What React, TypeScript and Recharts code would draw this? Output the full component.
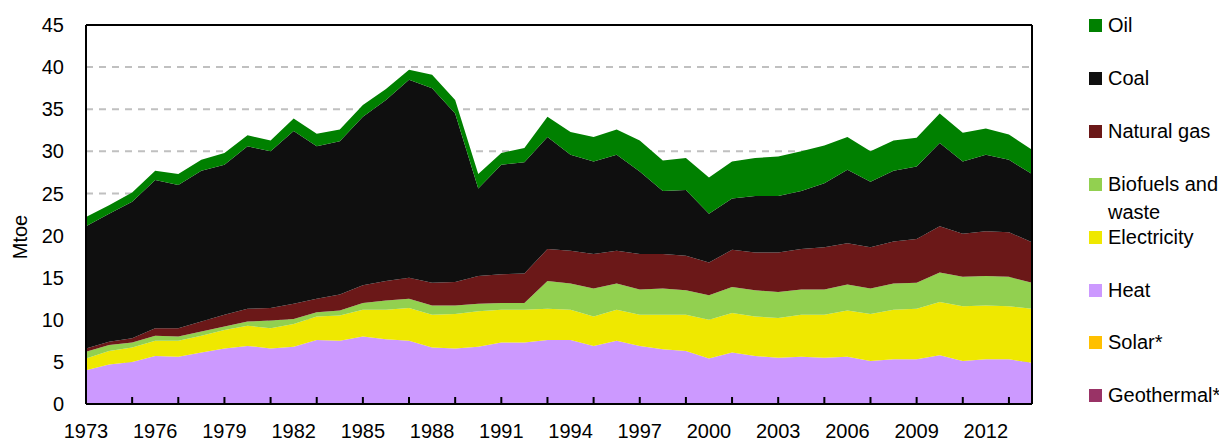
import React from 'react';
import { AreaChart, Area, XAxis, YAxis, CartesianGrid, ReferenceLine } from 'recharts';

const years = [
  1973, 1974, 1975, 1976, 1977, 1978, 1979, 1980, 1981, 1982, 1983, 1984, 1985, 1986,
  1987, 1988, 1989, 1990, 1991, 1992, 1993, 1994, 1995, 1996, 1997, 1998, 1999, 2000,
  2001, 2002, 2003, 2004, 2005, 2006, 2007, 2008, 2009, 2010, 2011, 2012, 2013, 2014,
];

// Mtoe by source, bottom of the stack first
const geothermal = [
  0, 0, 0, 0, 0, 0, 0, 0, 0, 0, 0, 0, 0, 0, 0, 0, 0, 0, 0, 0, 0,
  0, 0, 0, 0, 0, 0, 0, 0, 0, 0, 0, 0, 0, 0, 0, 0, 0, 0, 0, 0, 0,
];
const solar = [
  0, 0, 0, 0, 0, 0, 0, 0, 0, 0, 0, 0, 0, 0, 0, 0, 0, 0, 0, 0, 0,
  0, 0, 0, 0, 0, 0, 0, 0, 0, 0, 0, 0, 0, 0, 0, 0, 0, 0, 0, 0, 0,
];
const heat = [
  4.0, 4.7, 5.0, 5.7, 5.6, 6.1, 6.6, 6.9, 6.6, 6.8, 7.6, 7.5, 8.0, 7.7,
  7.5, 6.7, 6.6, 6.8, 7.3, 7.3, 7.6, 7.6, 6.9, 7.5, 6.9, 6.5, 6.3, 5.4,
  6.1, 5.7, 5.5, 5.6, 5.5, 5.6, 5.1, 5.3, 5.3, 5.8, 5.1, 5.3, 5.3, 4.9,
];
const electricity = [
  1.4, 1.6, 1.7, 1.8, 1.9, 2.0, 2.2, 2.4, 2.4, 2.7, 2.8, 3.0, 3.2, 3.5,
  3.9, 3.9, 4.1, 4.2, 3.9, 3.9, 3.7, 3.6, 3.5, 3.7, 3.7, 4.1, 4.3, 4.6,
  4.7, 4.7, 4.7, 5.0, 5.1, 5.5, 5.6, 5.9, 6.0, 6.3, 6.5, 6.4, 6.3, 6.4,
];
const biofuels = [
  0.8, 0.7, 0.6, 0.6, 0.5, 0.5, 0.4, 0.5, 0.9, 0.6, 0.5, 0.6, 0.8, 1.1,
  1.1, 1.1, 1.0, 0.9, 0.8, 0.8, 3.3, 3.1, 3.3, 3.1, 3.0, 3.1, 2.9, 2.9,
  3.1, 3.1, 3.1, 3.0, 3.0, 3.1, 3.0, 3.1, 3.1, 3.5, 3.5, 3.5, 3.5, 3.1,
];
const naturalGas = [
  0.4, 0.4, 0.5, 0.9, 1.0, 1.2, 1.4, 1.5, 1.5, 1.8, 1.6, 1.9, 2.1, 2.3,
  2.5, 2.7, 2.8, 3.3, 3.4, 3.5, 3.8, 3.9, 4.1, 3.9, 4.2, 4.1, 4.1, 3.9,
  4.4, 4.5, 4.7, 4.8, 5.0, 4.9, 4.9, 5.0, 5.2, 5.5, 5.1, 5.3, 5.3, 4.8,
];
const coal = [
  14.5, 15.2, 16.2, 17.6, 17.0, 17.9, 17.8, 19.3, 18.6, 20.5, 18.1, 18.2, 20.0, 21.5,
  23.5, 23.1, 20.0, 10.4, 13.0, 13.2, 13.3, 11.4, 11.0, 11.4, 9.8, 7.5, 7.8, 5.8,
  6.1, 6.7, 6.7, 6.9, 7.6, 8.7, 7.8, 8.4, 8.6, 9.9, 8.6, 9.1, 8.6, 8.1,
];
const oil = [
  1.1, 1.0, 1.1, 1.1, 1.3, 1.3, 1.4, 1.3, 1.3, 1.5, 1.5, 1.4, 1.4, 1.3,
  1.2, 1.6, 1.6, 1.7, 1.4, 1.7, 2.4, 2.7, 2.9, 3.0, 3.7, 3.6, 3.8, 4.3,
  4.4, 4.5, 4.7, 4.7, 4.5, 3.9, 3.6, 3.6, 3.4, 3.5, 3.4, 3.1, 3.0, 2.9,
];

const yTicks = [0, 5, 10, 15, 20, 25, 30, 35, 40, 45];

const series = [
  { key: 'geothermal', name: 'Geothermal*', color: '#993366', values: geothermal },
  { key: 'solar', name: 'Solar*', color: '#ffc000', values: solar },
  { key: 'heat', name: 'Heat', color: '#cc99ff', values: heat },
  { key: 'electricity', name: 'Electricity', color: '#efe800', values: electricity },
  { key: 'biofuels', name: 'Biofuels and waste', color: '#92d050', values: biofuels },
  { key: 'naturalGas', name: 'Natural gas', color: '#6b1818', values: naturalGas },
  { key: 'coal', name: 'Coal', color: '#0f0f0f', values: coal },
  { key: 'oil', name: 'Oil', color: '#008000', values: oil },
];

const data = years.map((year, i) => {
  const row: Record<string, number> = { year };
  series.forEach((s) => {
    row[s.key] = s.values[i];
  });
  return row;
});

const FONT = '"Liberation Sans", Arial, sans-serif';

const YearTick = (props: any) => {
  const { x, y, payload } = props;
  const yr = payload.value as number;
  const showMark = yr !== 1973 && (yr - 1973) % 2 === 0;
  const showLabel = (yr - 1973) % 3 === 0;
  return (
    <g>
      {showMark && <line x1={x} x2={x} y1={y} y2={y - 7} stroke="#000" strokeWidth={2} />}
      {showLabel && (
        <text x={x} y={y + 27} textAnchor="middle" dominantBaseline="central" fontSize={20} fontFamily={FONT} fill="#000">
          {yr}
        </text>
      )}
    </g>
  );
};

const MtoeLabel = () => (
  <text x={20} y={237} transform="rotate(-90 20 237)" textAnchor="middle" dominantBaseline="central" fontSize={20} fontFamily={FONT} fill="#000">
    Mtoe
  </text>
);

const legendItems = [...series].reverse();

export default function App() {
  return (
    <div style={{ position: 'absolute', left: 0, top: 0, width: 1219, height: 443, background: '#fff' }}>
      <AreaChart width={1219} height={443} data={data} margin={{ top: 25, right: 187, bottom: 0, left: 26 }}>
        <CartesianGrid vertical={false} stroke="#c0c0c0" strokeWidth={2} strokeDasharray="7 6" />
        <YAxis
          type="number"
          domain={[0, 45]}
          ticks={yTicks}
          width={60}
          tickLine={false}
          tickSize={0}
          tickMargin={22}
          axisLine={{ stroke: '#000', strokeWidth: 2 }}
          tick={{ fontSize: 20, fontFamily: FONT, fill: '#000' }}
          label={{ content: <MtoeLabel /> }}
        />
        {series.map((s) => (
          <Area
            key={s.key}
            type="linear"
            dataKey={s.key}
            name={s.name}
            stackId="1"
            stroke="none"
            fill={s.color}
            fillOpacity={1}
            isAnimationActive={false}
          />
        ))}
        <XAxis
          dataKey="year"
          type="number"
          domain={[1973, 2014]}
          ticks={years}
          interval={0}
          height={39}
          tickLine={false}
          tickSize={0}
          tickMargin={0}
          axisLine={{ stroke: '#000', strokeWidth: 2 }}
          tick={<YearTick />}
        />
        <ReferenceLine y={45} stroke="#000" strokeWidth={2} />
        <ReferenceLine x={2014} stroke="#000" strokeWidth={2} />
      </AreaChart>
      {legendItems.map((s, i) => (
        <div
          key={s.key}
          style={{
            position: 'absolute',
            left: 1089,
            top: 25 + i * 52.9 - 14,
            display: 'flex',
            alignItems: 'flex-start',
            fontFamily: FONT,
            fontSize: 20,
            lineHeight: '28px',
            color: '#000',
          }}
        >
          <span style={{ width: 13, height: 13, background: s.color, marginTop: 8, marginRight: 6, flex: 'none' }} />
          <span style={{ width: 115 }}>{s.name}</span>
        </div>
      ))}
    </div>
  );
}
